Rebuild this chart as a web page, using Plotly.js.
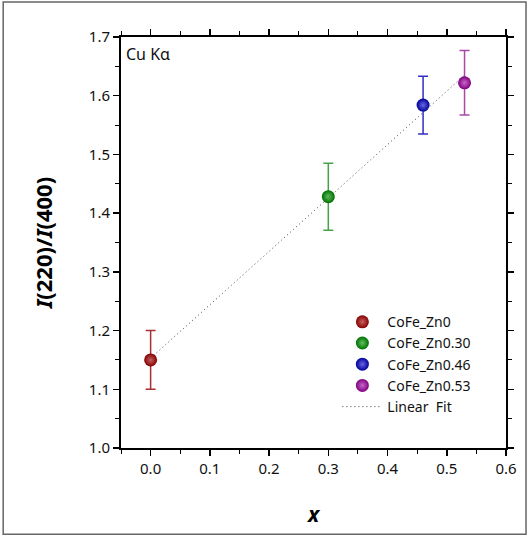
<!DOCTYPE html>
<html>
<head>
<meta charset="utf-8">
<script src="https://cdn.plot.ly/plotly-3.0.1.min.js"></script>
<style>html,body{margin:0;padding:0;background:#fff;}#chart{width:529px;height:537px;}</style>
</head>
<body>
<div id="chart"></div>
<script>
var sampleNames = ["CoFe_Zn0", "CoFe_Zn0.30", "CoFe_Zn0.46", "CoFe_Zn0.53"];
var xValues = [0, 0.30, 0.46, 0.53];
var ratioValues = [1.150, 1.428, 1.584, 1.622];
var ratioErrors = [0.050, 0.057, 0.049, 0.055];
var markerColors = ["#850000", "#007000", "#00009a", "#800080"];
var highlightColors = ["#c86060", "#60c060", "#6868e0", "#c868c8"];
var errorColors = ["#a83030", "#4aa04a", "#3030c0", "#a848a8"];
var fitX = [0, 0.53];
var fitY = [1.153, 1.635];
var xTicks = [0.0, 0.1, 0.2, 0.3, 0.4, 0.5, 0.6];
var yTicks = [1.0, 1.1, 1.2, 1.3, 1.4, 1.5, 1.6, 1.7];

var font = "Noto Sans, DejaVu Sans, sans-serif";
var traces = [];
for (var i = 0; i < sampleNames.length; i++) {
  traces.push({
    type: "scatter", mode: "markers", name: sampleNames[i],
    x: [xValues[i]], y: [ratioValues[i]],
    error_y: {type: "data", array: [ratioErrors[i]], visible: true, color: errorColors[i], thickness: 1.5, width: 5},
    marker: {size: 13, color: markerColors[i], gradient: {type: "radial", color: highlightColors[i]}, line: {width: 0}}
  });
}
traces.push({
  type: "scatter", mode: "lines", name: "Linear  Fit",
  x: fitX, y: fitY,
  line: {color: "#444444", width: 1, dash: "1px,3px"}
});

var axisCommon = {
  showgrid: false, zeroline: false, showline: true, linecolor: "#000", linewidth: 2,
  mirror: "ticks", ticks: "outside", ticklen: 6, tickwidth: 1.5, tickcolor: "#000",
  tickfont: {family: font, size: 15, color: "#111"}
};

var layout = {
  width: 529, height: 537,
  margin: {l: 121, r: 23, t: 37, b: 89},
  paper_bgcolor: "#fff", plot_bgcolor: "#fff",
  showlegend: true,
  legend: {x: 0.562, y: 0.345, xanchor: "left", yanchor: "top", bgcolor: "rgba(0,0,0,0)",
    font: {family: font, size: 14, color: "#111"}, tracegroupgap: 0, itemwidth: 40},
  xaxis: Object.assign({}, axisCommon, {
    range: [-0.05, 0.6], tickvals: xTicks, ticktext: xTicks.map(function(v){return v.toFixed(1);}),
    minor: {ticks: "outside", ticklen: 4, tickwidth: 1, tickcolor: "#000", dtick: 0.05, tick0: 0},
    title: {text: "<b><i>x</i></b>", font: {family: font, size: 21, color: "#000"}, standoff: 30}
  }),
  yaxis: Object.assign({}, axisCommon, {
    range: [1.0, 1.7], tickvals: yTicks, ticktext: yTicks.map(function(v){return v.toFixed(1);}),
    minor: {ticks: "outside", ticklen: 4, tickwidth: 1, tickcolor: "#000", dtick: 0.05, tick0: 0},
    title: {text: "<b><i>I</i>(220)/<i>I</i>(400)</b>", font: {family: font, size: 22, color: "#000"}, standoff: 30}
  }),
  annotations: [{
    xref: "paper", yref: "paper", x: 0.008, y: 0.99, xanchor: "left", yanchor: "top",
    text: "Cu K\u03b1", showarrow: false, font: {family: font, size: 16, color: "#111"}
  }],
  shapes: [{
    type: "rect", xref: "paper", yref: "paper",
    x0: -0.306, x1: 1.052, y0: -0.210, y1: 1.085,
    line: {color: "#666", width: 1.5}, fillcolor: "rgba(0,0,0,0)", layer: "below"
  }]
};

Plotly.newPlot("chart", traces, layout, {displayModeBar: false, staticPlot: true});
</script>
</body>
</html>
